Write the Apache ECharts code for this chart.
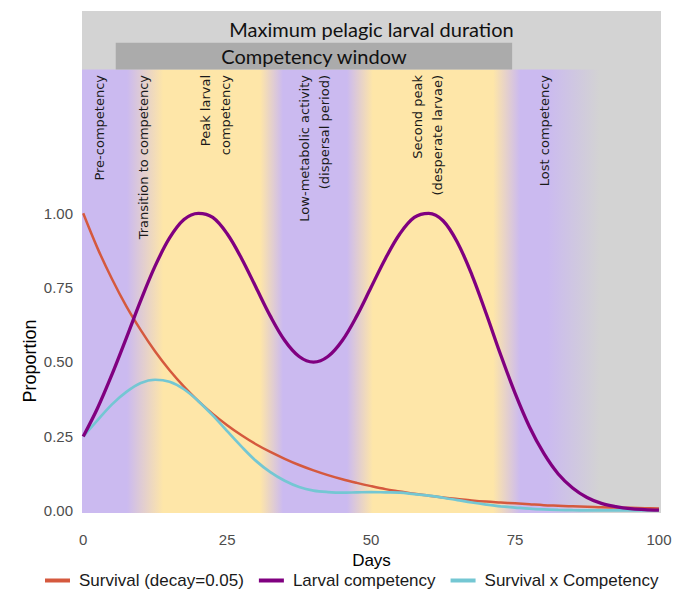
<!DOCTYPE html>
<html>
<head>
<meta charset="utf-8">
<script src="https://cdn.jsdelivr.net/npm/echarts@6/dist/echarts.min.js"></script>
<style>
  html, body { margin: 0; padding: 0; background: #fff; }
  #chart { width: 680px; height: 598px; }
</style>
</head>
<body>
<div id="chart"></div>
<script>
// --- data ---
var days = [0, 2.5, 5, 7.5, 10, 12.5, 15, 17.5, 20, 22.5, 25, 27.5, 30, 32.5, 35, 37.5, 40,
  42.5, 45, 47.5, 50, 52.5, 55, 57.5, 60, 62.5, 65, 67.5, 70, 72.5, 75, 77.5, 80,
  82.5, 85, 87.5, 90, 92.5, 95, 97.5, 100];
var survival = [1.000, 0.882, 0.779, 0.687, 0.607, 0.535, 0.472, 0.417, 0.368, 0.325, 0.287,
  0.253, 0.223, 0.197, 0.174, 0.153, 0.135, 0.119, 0.105, 0.093, 0.082, 0.072, 0.064,
  0.056, 0.050, 0.044, 0.039, 0.034, 0.030, 0.027, 0.024, 0.021, 0.018, 0.016, 0.014,
  0.013, 0.011, 0.010, 0.009, 0.008, 0.007];
var competency = [0.249, 0.345, 0.458, 0.581, 0.707, 0.823, 0.917, 0.979, 1.000, 0.986, 0.931,
  0.848, 0.751, 0.654, 0.572, 0.518, 0.499, 0.518, 0.572, 0.654, 0.751, 0.848, 0.931,
  0.986, 1.000, 0.975, 0.902, 0.793, 0.662, 0.524, 0.395, 0.282, 0.192, 0.123, 0.076,
  0.044, 0.024, 0.013, 0.006, 0.003, 0.001];
var survivalXcomp = [0.249, 0.304, 0.357, 0.399, 0.429, 0.440, 0.433, 0.408, 0.368, 0.320, 0.267,
  0.215, 0.167, 0.129, 0.100, 0.079, 0.067, 0.062, 0.060, 0.061, 0.062, 0.061, 0.060,
  0.055, 0.050, 0.043, 0.035, 0.027, 0.020, 0.014, 0.010, 0.006, 0.0035, 0.002, 0.001,
  0.0006, 0.0003, 0.0001, 0.0001, 0, 0];
var seriesNames = ['Survival (decay=0.05)', 'Larval competency', 'Survival x Competency'];
var xTicks = [0, 25, 50, 75, 100];
var yTicks = [0, 0.25, 0.5, 0.75, 1];

// phase labels (day of label centre)
var phaseLabels = ['Pre-competency', 'Transition to competency', 'Peak larval\ncompetency',
  'Low-metabolic activity\n(dispersal period)', 'Second peak\n(desperate larvae)', 'Lost competency'];
var phaseDays = [2.8, 10.4, 22.9, 40.2, 59.8, 80.2];

// background phase bands: day where each colour stop sits
var bandDays = [-0.21, 7.6, 13.9, 30.7, 34.7, 45.8, 50.3, 71.2, 75.9, 80.6, 89.7, 100.35];
var bandKinds = ['p', 'p', 'y', 'y', 'p', 'p', 'y', 'y', 'p', 'p', 'g', 'g'];
var windowDays = [5.65, 74.5];

var xMin = -0.21, xMax = 100.35;
var yMin = -0.0084, yMax = 1.6807;
var bandTop = 1.4842, windowTop = 1.5741, labelTop = 1.4654;

var purple = '#CBBAF0', yellow = '#FEE6A8', grey = '#D3D3D3';
var kindColor = { p: purple, y: yellow, g: grey };

var stops = bandDays.map(function(d, i) {
  return { offset: (d - xMin) / (xMax - xMin), color: kindColor[bandKinds[i]] };
});

function pairs(vals) {
  return days.map(function(d, i) { return [d, vals[i]]; });
}

var chart = echarts.init(document.getElementById('chart'), null, { renderer: 'svg' });
chart.setOption({
  animation: false,
  textStyle: { fontFamily: 'Liberation Sans, Arial, sans-serif' },
  grid: { left: 82, right: 19, top: 11, bottom: 85 },
  legend: {
    data: seriesNames,
    left: 40,
    top: 567,
    icon: 'rect',
    itemWidth: 25,
    itemHeight: 4,
    itemGap: 15,
    textStyle: { fontSize: 17, color: '#1a1a1a', padding: [0, 0, 0, 4] }
  },
  xAxis: {
    type: 'value',
    min: xMin,
    max: xMax,
    name: 'Days',
    nameLocation: 'middle',
    nameGap: 34,
    nameTextStyle: { fontSize: 17, color: '#000' },
    axisLine: { show: false },
    axisTick: { show: false },
    splitLine: { show: false },
    axisLabel: { customValues: xTicks, fontSize: 15, color: '#4d4d4d', margin: 19 }
  },
  yAxis: {
    type: 'value',
    min: yMin,
    max: yMax,
    axisLine: { show: false },
    axisTick: { show: false },
    splitLine: { show: false },
    axisLabel: {
      customValues: yTicks, fontSize: 15, color: '#4d4d4d', margin: 9,
      formatter: function(v) { return v.toFixed(2); }
    }
  },
  graphic: [{
    type: 'text',
    x: 30,
    y: 361,
    rotation: Math.PI / 2,
    style: {
      text: 'Proportion', fontSize: 18, fill: '#000',
      fontFamily: 'Liberation Sans, Arial, sans-serif',
      align: 'center', verticalAlign: 'middle'
    }
  }],
  series: [
    {
      name: 'background',
      type: 'line',
      data: [],
      silent: true,
      z: 0,
      markArea: {
        silent: true,
        data: [
          [{
            coord: [xMin, yMin],
            itemStyle: { color: grey },
            label: {
              show: true, position: 'insideTop', distance: 8,
              formatter: 'Maximum pelagic larval duration',
              fontFamily: 'Lato, sans-serif', fontSize: 20, color: '#111'
            }
          }, { coord: [xMax, yMax] }],
          [{
            coord: [xMin, yMin],
            itemStyle: { color: { type: 'linear', x: 0, y: 0, x2: 1, y2: 0, colorStops: stops } },
            label: { show: false }
          }, { coord: [xMax, bandTop] }],
          [{
            coord: [windowDays[0], bandTop],
            itemStyle: { color: '#ABABAB' },
            label: {
              show: true, position: 'inside',
              formatter: 'Competency window',
              fontFamily: 'Lato, sans-serif', fontSize: 20, color: '#111'
            }
          }, { coord: [windowDays[1], windowTop] }]
        ]
      },
      markPoint: {
        silent: true,
        symbol: 'circle',
        symbolSize: 0,
        data: phaseLabels.map(function(t, i) {
          return {
            coord: [phaseDays[i], labelTop],
            label: {
              show: true, position: 'inside', formatter: t, rotate: 90,
              align: 'right', verticalAlign: 'middle',
              fontFamily: 'DejaVu Sans, sans-serif', fontSize: 13, lineHeight: 20, color: '#1a1a1a'
            }
          };
        })
      }
    },
    {
      name: seriesNames[0],
      type: 'line',
      data: pairs(survival),
      smooth: 0.35,
      showSymbol: false,
      z: 2,
      lineStyle: { color: '#D5593E', width: 2.5 },
      itemStyle: { color: '#D5593E' }
    },
    {
      name: seriesNames[2],
      type: 'line',
      data: pairs(survivalXcomp),
      smooth: 0.35,
      showSymbol: false,
      z: 3,
      lineStyle: { color: '#74C7D3', width: 2.7 },
      itemStyle: { color: '#74C7D3' }
    },
    {
      name: seriesNames[1],
      type: 'line',
      data: pairs(competency),
      smooth: 0.35,
      showSymbol: false,
      z: 4,
      lineStyle: { color: '#800080', width: 3.3 },
      itemStyle: { color: '#800080' }
    }
  ]
});
</script>
</body>
</html>
